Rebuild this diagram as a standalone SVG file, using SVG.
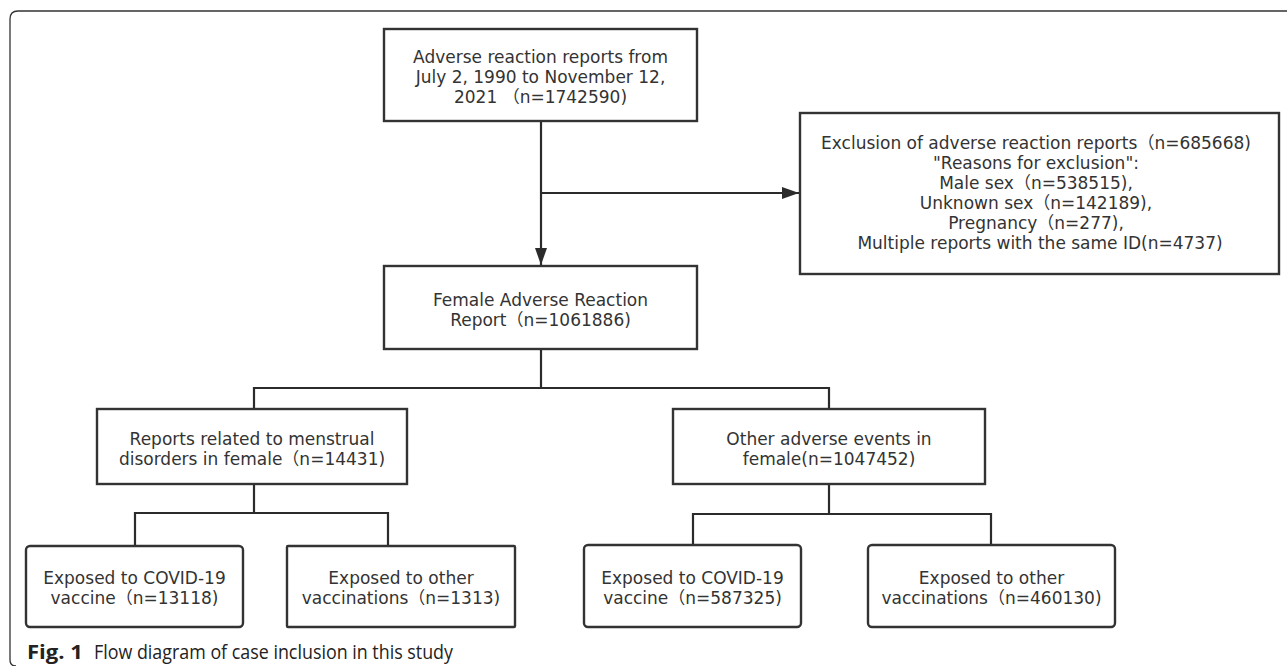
<svg xmlns="http://www.w3.org/2000/svg" width="1287" height="666" viewBox="0 0 1287 666">
<style>
.bx{fill:#fff;stroke:#333;stroke-width:2.4}
.t{font-family:"DejaVu Sans","Noto Sans CJK SC",sans-serif;font-size:17px;fill:#333;text-anchor:middle}
.c{fill:none;stroke:#2b2b2b;stroke-width:2.2}
.cap{font-family:"Open Sans",sans-serif;font-size:20px;fill:#222}
</style>
<defs>
<marker id="ah" markerUnits="userSpaceOnUse" markerWidth="18" markerHeight="14" refX="17" refY="6" orient="auto">
<path d="M0,0 L17,6 L0,12 z" fill="#2b2b2b"/>
</marker>
</defs>
<path d="M16,666 Q10,666 10,660 V19 Q10,11 18,11 H1287" fill="none" stroke="#333" stroke-width="1.3"/>
<g id="connectors">
<line class="c" x1="541" y1="121" x2="541" y2="265" marker-end="url(#ah)"/>
<line class="c" x1="541" y1="193" x2="799" y2="193" marker-end="url(#ah)"/>
<polyline class="c" points="541,349 541,388"/>
<polyline class="c" points="254,409 254,388 829,388 829,409"/>
<polyline class="c" points="254,484 254,513"/>
<polyline class="c" points="135,546 135,513 388,513 388,546"/>
<polyline class="c" points="829,484 829,514"/>
<polyline class="c" points="693,545 693,514 991,514 991,545"/>
</g>
<g id="n1">
<rect class="bx" x="384" y="29" width="313" height="92"/>
<text class="t" x="540.5" y="63">Adverse reaction reports from<tspan x="540.5" dy="20">July 2, 1990 to November 12,</tspan><tspan x="540.5" dy="20">2021 （n=1742590)</tspan></text>
</g>
<g id="n2">
<rect class="bx" x="800" y="113" width="479" height="161"/>
<text class="t" x="1036" y="149">Exclusion of adverse reaction reports（n=685668)<tspan x="1036" dy="20">"Reasons for exclusion":</tspan><tspan x="1036" dy="20">Male sex（n=538515),</tspan><tspan x="1036" dy="20">Unknown sex（n=142189),</tspan><tspan x="1036" dy="20">Pregnancy（n=277),</tspan><tspan x="1040" dy="20">Multiple reports with the same ID(n=4737)</tspan></text>
</g>
<g id="n3">
<rect class="bx" x="384" y="266" width="313" height="83"/>
<text class="t" x="540.5" y="306">Female Adverse Reaction<tspan x="540.5" dy="20">Report（n=1061886)</tspan></text>
</g>
<g id="n4">
<rect class="bx" x="97" y="409" width="310" height="75"/>
<text class="t" x="252" y="445">Reports related to menstrual<tspan x="252" dy="20">disorders in female（n=14431)</tspan></text>
</g>
<g id="n5">
<rect class="bx" x="673" y="409" width="312" height="75"/>
<text class="t" x="829" y="445">Other adverse events in<tspan x="829" dy="20">female(n=1047452)</tspan></text>
</g>
<g id="n6">
<rect class="bx" x="26" y="546" width="217" height="81" rx="4"/>
<text class="t" x="134.5" y="584">Exposed to COVID-19<tspan x="134.5" dy="20">vaccine（n=13118)</tspan></text>
</g>
<g id="n7">
<rect class="bx" x="287" y="546" width="228" height="81" rx="1"/>
<text class="t" x="401" y="584">Exposed to other<tspan x="401" dy="20">vaccinations（n=1313)</tspan></text>
</g>
<g id="n8">
<rect class="bx" x="584" y="545" width="217" height="82" rx="4"/>
<text class="t" x="692.5" y="584">Exposed to COVID-19<tspan x="692.5" dy="20">vaccine（n=587325)</tspan></text>
</g>
<g id="n9">
<rect class="bx" x="868" y="545" width="247" height="82" rx="4"/>
<text class="t" x="991.5" y="584">Exposed to other<tspan x="991.5" dy="20">vaccinations（n=460130)</tspan></text>
</g>
<g id="caption">
<text class="cap" x="27" y="659" font-weight="bold" textLength="56" lengthAdjust="spacingAndGlyphs">Fig. 1</text>
<text class="cap" x="94" y="659" textLength="359" lengthAdjust="spacingAndGlyphs">Flow diagram of case inclusion in this study</text>
</g>
</svg>
